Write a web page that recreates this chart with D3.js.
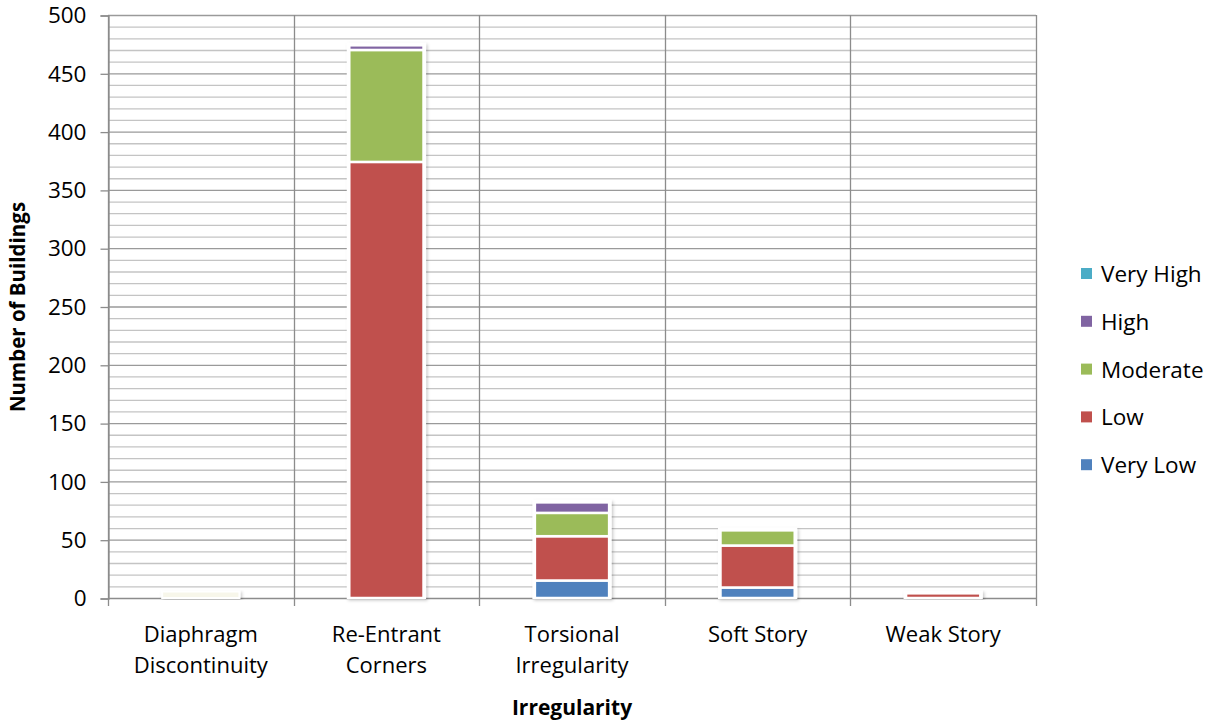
<!DOCTYPE html>
<html><head><meta charset="utf-8">
<script src="https://cdn.jsdelivr.net/npm/d3@7"></script>
<style>body{margin:0;background:#fff}svg{display:block}text{font-family:"Open Sans",sans-serif;fill:#000}</style>
</head><body>
<svg id="c" width="1225" height="726"></svg>
<script>
const categories = ["Diaphragm\nDiscontinuity","Re-Entrant\nCorners","Torsional\nIrregularity","Soft Story","Weak Story"];
const seriesNames = ["Very Low","Low","Moderate","High","Very High"];
const veryLow  = [0, 0, 15, 9, 0];
const low      = [0, 374, 38, 36, 4];
const moderate = [0, 96, 20, 13, 0];
const high     = [0, 4, 9, 0, 0];
const veryHigh = [0, 0, 0, 0, 0];
const colors = ["#4F81BD","#C0504D","#9BBB59","#8064A2","#4BACC6"];
const yTicks = [0,50,100,150,200,250,300,350,400,450,500];

const svg = d3.select("#c");
const m = {l:108, r:1036, t:15, b:598};
const x = d3.scaleBand().domain(categories).range([m.l, m.r]).paddingInner(0).paddingOuter(0);
const y = d3.scaleLinear().domain([0,500]).range([m.b, m.t]);

const defs = svg.append("defs");
const f = defs.append("filter").attr("id","sh").attr("x","-20%").attr("y","-20%").attr("width","140%").attr("height","140%");
f.append("feDropShadow").attr("dx",1.5).attr("dy",1.5).attr("stdDeviation",1.8).attr("flood-color","#000").attr("flood-opacity",0.22);

// minor gridlines
const minor = d3.range(10, 500, 10).filter(v => v % 50 !== 0);
svg.append("g").selectAll("line").data(minor).join("line")
  .attr("x1", m.l).attr("x2", m.r).attr("y1", d=>y(d)+0.5).attr("y2", d=>y(d)+0.5)
  .attr("stroke","#c4c4c4").attr("stroke-width",1.3);
svg.append("g").selectAll("line").data(yTicks.filter(d=>d>0)).join("line")
  .attr("x1", m.l).attr("x2", m.r).attr("y1", d=>y(d)+0.5).attr("y2", d=>y(d)+0.5)
  .attr("stroke","#9a9a9a").attr("stroke-width",1.3);
// vertical category lines
const bounds = categories.map(c => x(c)).concat([m.r]);
svg.append("g").selectAll("line").data(bounds).join("line")
  .attr("x1", d=>Math.round(d)+0.5).attr("x2", d=>Math.round(d)+0.5).attr("y1", m.t).attr("y2", m.b+8)
  .attr("stroke","#8c8c8c").attr("stroke-width",1.3);

// y axis
const yAxis = d3.axisLeft(y).tickValues(yTicks).tickSize(8).tickPadding(14);
const gy = svg.append("g").attr("transform",`translate(${m.l+0.5},0.5)`).call(yAxis);
gy.select(".domain").attr("stroke","#8c8c8c").attr("stroke-width",1.3);
gy.selectAll(".tick line").attr("stroke","#8c8c8c").attr("stroke-width",1.3);
gy.selectAll(".tick text").style("font-size","22.5px").style("font-family","'Open Sans',sans-serif").attr("fill","#000");
// x axis line
svg.append("line").attr("x1",m.l).attr("x2",m.r).attr("y1",m.b+0.5).attr("y2",m.b+0.5).attr("stroke","#8c8c8c").attr("stroke-width",1.5);

// stacks
const rows = categories.map((c,i)=>({cat:c, "Very Low":veryLow[i], "Low":low[i], "Moderate":moderate[i], "High":high[i], "Very High":veryHigh[i]}));
const stack = d3.stack().keys(seriesNames)(rows);
const bw = x.bandwidth()*0.4;
const bx = c => x(c) + (x.bandwidth()-bw)/2;

// frame/shadow for each stack
svg.append("g").selectAll("rect").data(rows).join("rect")
  .attr("x", d=>bx(d.cat)-1.5).attr("width", bw+3)
  .attr("y", d=>{const t=seriesNames.reduce((s,k)=>s+d[k],0); return Math.min(y(t), m.b-5)-1.5;})
  .attr("height", d=>{const t=seriesNames.reduce((s,k)=>s+d[k],0); return m.b - Math.min(y(t), m.b-5)+1.5;})
  .attr("fill","#f7f6ea").attr("stroke","#fff").attr("stroke-width",2).attr("filter","url(#sh)");

svg.append("g").selectAll("g").data(stack).join("g")
  .attr("fill",(d,i)=>colors[i])
  .selectAll("rect").data(d=>d.filter(p=>p[1]-p[0]>0).map(p=>({p, cat:p.data.cat}))).join("rect")
  .attr("x", d=>bx(d.cat)).attr("width", bw)
  .attr("y", d=>y(d.p[1])).attr("height", d=>y(d.p[0])-y(d.p[1]))
  .attr("stroke","#fff").attr("stroke-width",2.5);

// x labels
const xl = svg.append("g");
categories.forEach(c=>{
  const lines = c.split("\n");
  const t = xl.append("text").attr("x", x(c)+x.bandwidth()/2).attr("text-anchor","middle").style("font-size","22px");
  lines.forEach((ln,i)=> t.append("tspan").attr("x", x(c)+x.bandwidth()/2).attr("y", 642 + i*31).text(ln));
});

// axis titles
svg.append("text").attr("transform","translate(25,307) rotate(-90)").attr("text-anchor","middle")
  .style("font-size","20.5px").style("font-weight","bold").text("Number of Buildings");
svg.append("text").attr("x",572).attr("y",715).attr("text-anchor","middle")
  .style("font-size","21px").style("font-weight","bold").text("Irregularity");

// legend
const legOrder = seriesNames.slice().reverse();
const lg = svg.append("g").selectAll("g").data(legOrder).join("g")
  .attr("transform",(d,i)=>`translate(1081,${268 + i*47.8})`);
lg.append("rect").attr("width",11).attr("height",11).attr("fill",d=>colors[seriesNames.indexOf(d)]);
lg.append("text").attr("x",20).attr("y",14).style("font-size","22.5px").text(d=>d);
</script>
</body></html>
